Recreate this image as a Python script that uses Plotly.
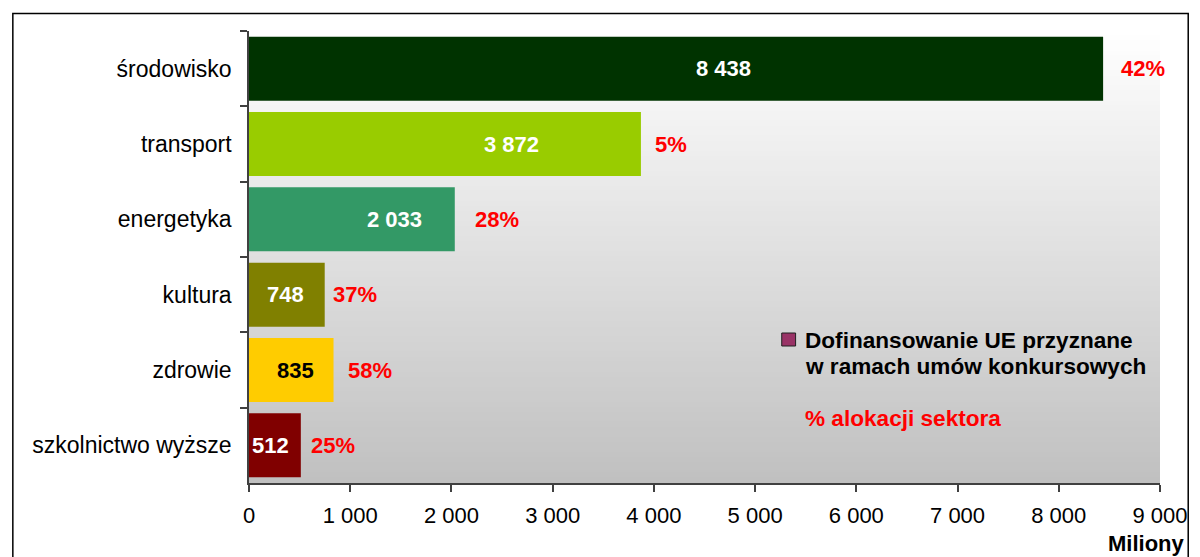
import plotly.graph_objects as go

# ---- data ----
categories = ["środowisko", "transport", "energetyka", "kultura", "zdrowie", "szkolnictwo wyższe"]
values = [8438, 3872, 2033, 748, 835, 512]
shares = ["42%", "5%", "28%", "37%", "58%", "25%"]
tick_values = [0, 1000, 2000, 3000, 4000, 5000, 6000, 7000, 8000, 9000]
legend_series_1 = "Dofinansowanie UE przyznane"
legend_series_2 = "w ramach umów konkursowych"
legend_share = "% alokacji sektora"
unit_label = "Miliony"

# ---- styling / label placement ----
bar_colors = ["#003300", "#99CC00", "#339966", "#808000", "#FFCC00", "#800000"]
value_font_colors = ["white", "white", "white", "white", "black", "white"]
value_label_x = [4690, 2590, 1440, 365, 460, 215]   # label centres, axis units
share_label_gap = [18, 14, 20, 8, 14, 10]           # px right of bar end

W, H = 1200, 557
ML, MR, MT, MB = 249, 31, 31, 74
PW = W - ML - MR
PH = H - MT - MB

def px_x(p):
    return (p - ML) / PW

def px_y(p):
    return (H - MB - p) / PH

FONT = "Liberation Sans, Arial, sans-serif"

fig = go.Figure()
fig.add_trace(go.Bar(
    y=categories, x=values, orientation="h",
    marker=dict(color=bar_colors, line=dict(width=0)),
    hoverinfo="skip", showlegend=False,
))

# gradient background strips
shapes = []
n = 90
for i in range(n):
    t0 = i / n
    t1 = (i + 1) / n
    t = (i + 0.5) / n
    c = int(round(255 - (255 - 192) * t))
    shapes.append(dict(type="rect", xref="x domain", yref="y domain",
                       x0=0, x1=1, y0=1 - t1, y1=1 - t0 + 0.002,
                       fillcolor=f"rgb({c},{c},{c})", line=dict(width=0), layer="below"))

# outer frame
shapes.append(dict(type="rect", xref="paper", yref="paper",
                   x0=px_x(10.5), x1=px_x(1197.5), y0=px_y(580), y1=px_y(13.5),
                   line=dict(color="black", width=1.5), fillcolor="rgba(0,0,0,0)", layer="above"))
# legend square
shapes.append(dict(type="rect", xref="paper", yref="paper",
                   x0=px_x(787), x1=px_x(801), y0=px_y(346), y1=px_y(333),
                   fillcolor="#993366", line=dict(color="#202020", width=1), layer="above"))

annotations = []
for cat, v, lx, fc in zip(categories, values, value_label_x, value_font_colors):
    annotations.append(dict(x=lx, y=cat, xref="x", yref="y",
                            text="<b>" + f"{v:,}".replace(",", " ") + "</b>",
                            showarrow=False, xanchor="center", yanchor="middle",
                            font=dict(family=FONT, size=22, color=fc)))
for cat, v, s, g in zip(categories, values, shares, share_label_gap):
    annotations.append(dict(x=v, y=cat, xref="x", yref="y", text=f"<b>{s}</b>",
                            showarrow=False, xanchor="left", yanchor="middle", xshift=g - 2,
                            font=dict(family=FONT, size=22, color="#FF0000")))

annotations.append(dict(x=px_x(808), y=px_y(340), xref="paper", yref="paper",
                        text=f"<b>{legend_series_1}</b>", showarrow=False, align="left",
                        xanchor="left", yanchor="middle",
                        font=dict(family=FONT, size=22.6, color="black")))
annotations.append(dict(x=px_x(808), y=px_y(366), xref="paper", yref="paper",
                        text=f"<b>{legend_series_2}</b>", showarrow=False, align="left",
                        xanchor="left", yanchor="middle",
                        font=dict(family=FONT, size=22.6, color="black")))
annotations.append(dict(x=px_x(808), y=px_y(418), xref="paper", yref="paper",
                        text=f"<b>{legend_share}</b>", showarrow=False, align="left",
                        xanchor="left", yanchor="middle",
                        font=dict(family=FONT, size=22.6, color="#FF0000")))
annotations.append(dict(x=px_x(1196), y=px_y(543), xref="paper", yref="paper",
                        text=f"<b>{unit_label}</b>", showarrow=False,
                        xanchor="right", yanchor="middle",
                        font=dict(family=FONT, size=22, color="black")))

fig.update_layout(
    width=W, height=H,
    margin=dict(l=ML, r=MR, t=MT, b=MB, pad=0),
    paper_bgcolor="white", plot_bgcolor="rgba(0,0,0,0)",
    separators=", ",
    bargap=0.15,
    shapes=shapes, annotations=annotations,
    font=dict(family=FONT, size=22, color="black"),
    xaxis=dict(range=[0, 9000], tickvals=tick_values, tickformat=",d",
               showgrid=False, zeroline=False, showline=True, linecolor="#404040", linewidth=1.5,
               ticks="outside", ticklen=7, tickcolor="#404040", tickwidth=1.5,
               ticklabelstandoff=5,
               tickfont=dict(family=FONT, size=22, color="black"), fixedrange=True),
    yaxis=dict(categoryorder="array", categoryarray=categories, autorange="reversed",
               showgrid=False, zeroline=False, showline=True, linecolor="#404040", linewidth=1.5,
               ticks="outside", ticklen=7, tickcolor="#404040", tickwidth=1.5,
               tickson="boundaries", ticklabelstandoff=11,
               tickfont=dict(family=FONT, size=23, color="black"), fixedrange=True),
)

fig.write_html("out.html", config={"displayModeBar": False},
               post_script="document.body.style.margin='0';document.body.style.overflow='hidden';")
